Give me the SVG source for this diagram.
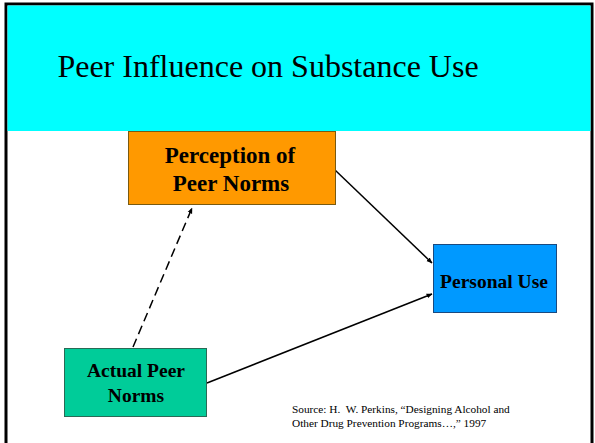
<svg xmlns="http://www.w3.org/2000/svg" width="595" height="443" viewBox="0 0 595 443">
<style>
.node text{font-family:"Liberation Serif","Times New Roman",serif;font-weight:bold;fill:#000;text-anchor:middle}
.conn line{stroke:#000;stroke-width:1.5;fill:none}
.src{font-family:"Liberation Serif","Times New Roman",serif;font-size:11.3px;fill:#000;white-space:pre}
.title{font-family:"Liberation Serif","Times New Roman",serif;font-size:32px;fill:#000;text-anchor:middle}
</style>
<defs>
<marker id="ah" viewBox="0 0 10 10" refX="9" refY="5" markerWidth="6" markerHeight="6" markerUnits="userSpaceOnUse" orient="auto">
<path d="M0,1 L10,5 L0,9 Z" fill="#000"/>
</marker>
</defs>
<rect x="0" y="0" width="595" height="443" fill="#fff"/>
<rect x="6" y="4" width="586" height="445" fill="#fff" stroke="#000" stroke-width="3"/>
<rect x="7.5" y="5.5" width="583" height="125.5" fill="#00FFFF"/>
<text class="title" x="268" y="77">Peer Influence on Substance Use</text>
<g class="conn">
<line x1="133" y1="347" x2="192" y2="208" stroke-dasharray="9,5" stroke-width="2" marker-end="url(#ah)"/>
<line x1="335" y1="170" x2="432" y2="263" marker-end="url(#ah)"/>
<line x1="207" y1="383" x2="432" y2="294" marker-end="url(#ah)"/>
</g>
<g id="perception" class="node">
<rect x="128.5" y="131.5" width="207" height="73" fill="#FF9900" stroke="#7a5a10" stroke-width="1"/>
<text x="230" y="163" font-size="23">Perception of</text>
<text x="231" y="191" font-size="23">Peer Norms</text>
</g>
<g id="actual" class="node">
<rect x="64.5" y="348.5" width="142" height="68" fill="#00CC99" stroke="#2a6a55" stroke-width="1"/>
<text x="136" y="377" font-size="19.5">Actual Peer</text>
<text x="136" y="402" font-size="19.5">Norms</text>
</g>
<g id="personal" class="node">
<rect x="433.5" y="244.5" width="123" height="68" fill="#0099FF" stroke="#1a4a80" stroke-width="1"/>
<text x="494" y="288" font-size="19.5">Personal Use</text>
</g>
<text class="src" x="292" y="413" xml:space="preserve">Source: H.  W. Perkins, “Designing Alcohol and</text>
<text class="src" x="292" y="427">Other Drug Prevention Programs…,” 1997</text>
</svg>
